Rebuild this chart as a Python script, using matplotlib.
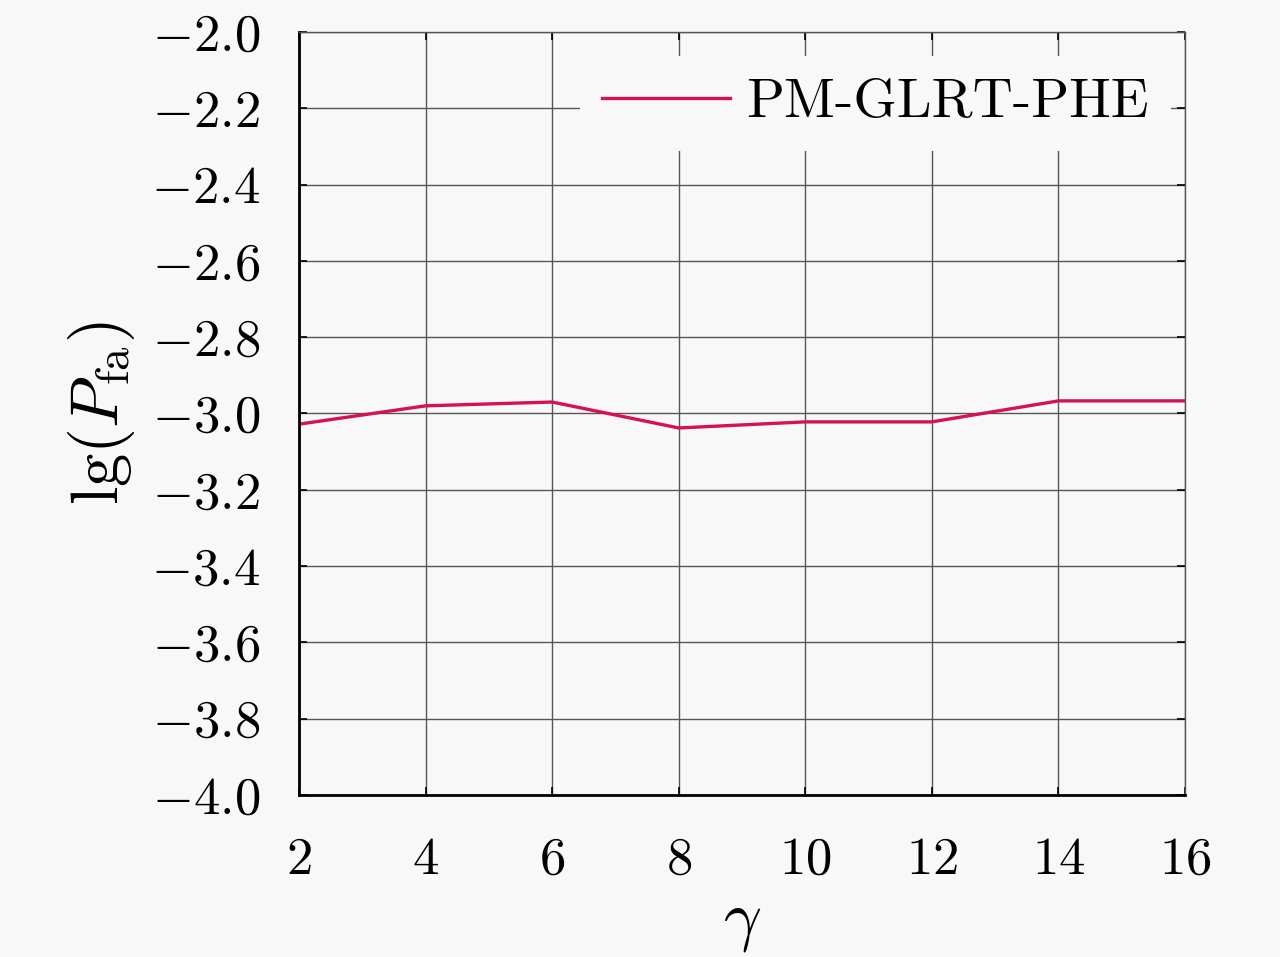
import matplotlib
matplotlib.use('Agg')
import matplotlib.pyplot as plt
from matplotlib.ticker import FuncFormatter

gamma = [2, 4, 6, 8, 10, 12, 14, 16]
lgPfa = [-3.028, -2.980, -2.970, -3.038, -3.022, -3.022, -2.967, -2.967]
xTicks = [2, 4, 6, 8, 10, 12, 14, 16]
yTicks = [-4.0, -3.8, -3.6, -3.4, -3.2, -3.0, -2.8, -2.6, -2.4, -2.2, -2.0]

plt.rcParams['font.family'] = 'cmr10'
plt.rcParams['mathtext.fontset'] = 'cm'
plt.rcParams['axes.formatter.use_mathtext'] = True

bg = '#f8f8f8'
fig = plt.figure(figsize=(12.8, 9.57), dpi=100, facecolor=bg)
ax = fig.add_axes([0.2336, 0.1693, 0.6922, 0.7973], facecolor=bg)

ax.plot(gamma, lgPfa, color='#d6124f', linewidth=2.4, label='PM-GLRT-PHE')

ax.set_xlim(2, 16)
ax.set_ylim(-4, -2)
ax.set_xticks(xTicks)
ax.set_yticks(yTicks)
ax.xaxis.set_major_formatter(FuncFormatter(lambda v, p: r'$%d$' % v))
ax.yaxis.set_major_formatter(FuncFormatter(lambda v, p: r'$%.1f$' % v))
ax.grid(True, color='#555555', linewidth=1.0)
ax.tick_params(direction='in', length=6, width=1.2, labelsize=38,
               top=True, right=True)
ax.tick_params(axis='y', pad=28)
ax.tick_params(axis='x', pad=30)

for side in ['top', 'right']:
    ax.spines[side].set_color('#555555')
    ax.spines[side].set_linewidth(1.0)
for side in ['left', 'bottom']:
    ax.spines[side].set_linewidth(2.0)

ax.set_xlabel(r'$\gamma$', fontsize=48, labelpad=8)
ax.set_ylabel(r'$\lg(P_{\mathrm{fa}})$', fontsize=48, labelpad=10)

leg = ax.legend(loc='upper right', bbox_to_anchor=(1.003, 0.99), fontsize=40,
                handlelength=2.3, handletextpad=0.3, frameon=True,
                fancybox=False, framealpha=1.0, borderaxespad=0.3,
                borderpad=0.4)
leg.get_frame().set_facecolor(bg)
leg.get_frame().set_edgecolor('none')

fig.savefig('out.png', dpi=100, facecolor=bg)
